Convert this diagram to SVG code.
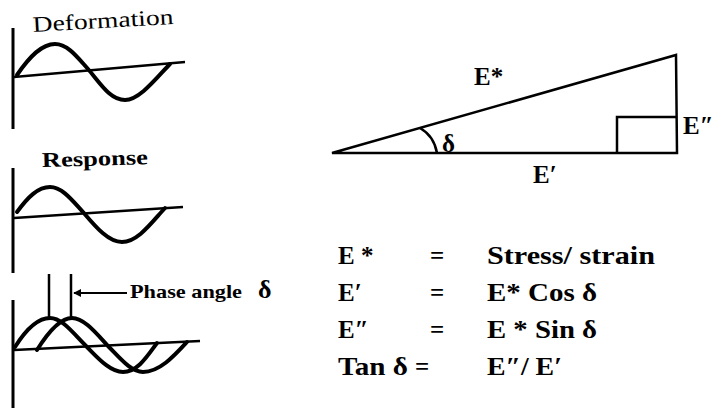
<svg xmlns="http://www.w3.org/2000/svg" width="713" height="408" viewBox="0 0 713 408">
<defs>
<style>
.ax{stroke:#000;stroke-width:3;fill:none}
.bl{stroke:#000;stroke-width:2.5;fill:none}
.wv{stroke:#000;stroke-width:4;fill:none;stroke-linejoin:round;stroke-linecap:round}
.tri{stroke:#000;stroke-width:2.5;fill:none}
.lbl{font-family:"Liberation Serif","Times New Roman",serif;fill:#000}
.eq{font-family:"Liberation Serif","Times New Roman",serif;font-weight:bold;font-size:25px;fill:#000}
</style>
<marker id="arr" viewBox="0 0 10 10" refX="9" refY="5" markerWidth="4" markerHeight="4" orient="auto-start-reverse">
<path d="M0,0 L10,5 L0,10 z" fill="#000"/>
</marker>
</defs>
<rect width="713" height="408" fill="#fff"/>

<g id="deformation">
<text class="lbl" x="33" y="32" font-size="22" textLength="141" lengthAdjust="spacingAndGlyphs" transform="rotate(-3.3 33 32)">Deformation</text>
<line class="ax" x1="13" y1="28" x2="13" y2="129"/>
<line class="bl" x1="14" y1="77" x2="185" y2="62"/>
<path class="wv" d="M17,75 C30,56 42,44 55,44 C68,44 78,58 88,69 C100,83 110,100 125,100 C140,100 158,76 170,64"/>
</g>

<g id="response">
<text class="lbl" x="42" y="167" font-size="21" font-weight="bold" textLength="106" lengthAdjust="spacingAndGlyphs" transform="rotate(-1.5 42 167)">Response</text>
<line class="ax" x1="13" y1="168" x2="13" y2="273"/>
<line class="bl" x1="14" y1="218" x2="183" y2="207"/>
<path class="wv" d="M17,212 C28,197 38,187 50,187 C62,187 72,200 83,212 C95,226 108,242 122,242 C138,242 152,222 165,208"/>
</g>

<g id="phase">
<line class="ax" x1="13" y1="300" x2="13" y2="408"/>
<line class="bl" x1="14" y1="350" x2="200" y2="341"/>
<path class="wv" d="M15,347 C25,331 37,318 50,318 C62,318 73,333 86,346 C98,358 110,372 123,372 C138,372 148,355 157,343"/>
<path class="wv" d="M37,350 C47,334 60,318 72,318 C84,318 96,333 108,346 C120,358 131,372 143,372 C160,372 175,355 187,342"/>
<line class="bl" x1="49" y1="274" x2="49" y2="318"/>
<line class="bl" x1="71" y1="274" x2="71" y2="318"/>
<text class="lbl" x="130" y="298" font-size="19" font-weight="bold" textLength="112" lengthAdjust="spacingAndGlyphs">Phase angle</text>
<text class="lbl" x="258" y="298" font-size="26" font-weight="bold">δ</text>
</g>

<g id="connectors">
<line x1="127" y1="293" x2="74" y2="293" stroke="#000" stroke-width="2" marker-end="url(#arr)"/>
</g>

<g id="triangle">
<path class="tri" d="M332,153 L677,153 L676,55 Z"/>
<path class="tri" d="M617,153 L617,117 L677,117"/>
<path class="tri" d="M420,128 Q434,136 437,153"/>
<text class="eq" x="442" y="152" font-size="21">δ</text>
<text class="eq" x="474" y="85">E*</text>
<text class="eq" x="683" y="134">E″</text>
<text class="eq" x="533" y="183">E′</text>
</g>

<g id="equations">
<text class="eq" x="338" y="264">E *</text>
<text class="eq" x="430" y="264">=</text>
<text class="eq" x="487" y="264" textLength="168" lengthAdjust="spacingAndGlyphs">Stress/ strain</text>
<text class="eq" x="338" y="301">E′</text>
<text class="eq" x="430" y="301">=</text>
<text class="eq" x="487" y="301" textLength="110" lengthAdjust="spacingAndGlyphs">E* Cos δ</text>
<text class="eq" x="338" y="338">E″</text>
<text class="eq" x="430" y="338">=</text>
<text class="eq" x="487" y="338" textLength="110" lengthAdjust="spacingAndGlyphs">E * Sin δ</text>
<text class="eq" x="338" y="375" textLength="70" lengthAdjust="spacingAndGlyphs">Tan δ</text>
<text class="eq" x="415" y="375">=</text>
<text class="eq" x="487" y="375" textLength="75" lengthAdjust="spacingAndGlyphs">E″/ E′</text>
</g>
</svg>
